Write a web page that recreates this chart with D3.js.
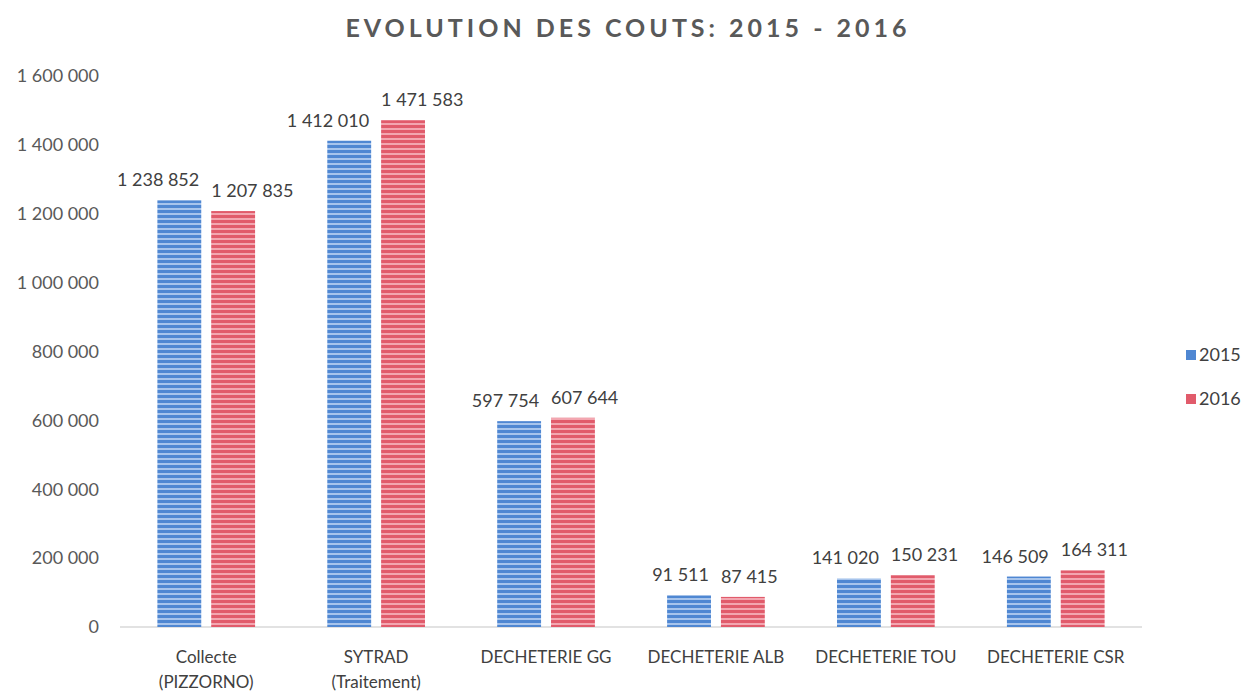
<!DOCTYPE html>
<html lang="fr">
<head>
  <meta charset="UTF-8">
  <title>Evolution des couts 2015 - 2016</title>
  <style>
    body { margin: 0; background: #fff; }
    text { font-family: Lato, "Open Sans", sans-serif; }
  </style>
</head>
<body>
  <div id="chart"></div>
  <script src="https://d3js.org/d3.v7.min.js"></script>
  <script>
    var categories = [['Collecte', '(PIZZORNO)'], ['SYTRAD', '(Traitement)'], ['DECHETERIE GG'],
      ['DECHETERIE ALB'], ['DECHETERIE TOU'], ['DECHETERIE CSR']]
    var years = ['2015', '2016']
    var values2015 = [1238852, 1412010, 597754, 91511, 141020, 146509]
    var values2016 = [1207835, 1471583, 607644, 87415, 150231, 164311]
    var yTicks = [0, 200000, 400000, 600000, 800000, 1000000, 1200000, 1400000, 1600000]

    var width = 1247, height = 692
    var margin = {left: 120, right: 105, top: 76, bottom: 65}

    var fr = d3.formatLocale({decimal: ',', thousands: '\u00a0', grouping: [3], currency: ['', ' €']})
    var fmt = fr.format(',d')

    var svg = d3.select('#chart').append('svg')
      .attr('width', width)
      .attr('height', height)

    // striped fills like the original print
    var defs = svg.append('defs')
    var fills = [{id: 'blue', dark: '#4f87d2', light: '#a7c4ec'}, {id: 'red', dark: '#e15b6b', light: '#f3a6b0'}]
    fills.forEach(function(f) {
      var p = defs.append('pattern')
        .attr('id', 'stripe-' + f.id)
        .attr('patternUnits', 'userSpaceOnUse')
        .attr('width', 8).attr('height', 5)
      p.append('rect').attr('width', 8).attr('height', 5).attr('fill', f.dark)
      p.append('rect').attr('y', 3).attr('width', 8).attr('height', 2).attr('fill', f.light)
    })

    var x0 = d3.scaleBand()
      .domain(d3.range(categories.length))
      .range([margin.left, width - margin.right])
      .paddingInner(0.425)
      .paddingOuter(0.22)
    var x1 = d3.scaleBand()
      .domain(years)
      .range([0, x0.bandwidth()])
      .paddingInner(0.185)
    var y = d3.scaleLinear()
      .domain([0, 1600000])
      .range([height - margin.bottom, margin.top])

    // title
    svg.append('text')
      .attr('x', 628).attr('y', 37)
      .attr('text-anchor', 'middle')
      .attr('font-size', 25)
      .attr('font-weight', 'bold')
      .attr('letter-spacing', 4)
      .attr('fill', '#595959')
      .text('EVOLUTION DES COUTS: 2015 - 2016')

    // y axis (labels only)
    var yAxis = d3.axisLeft(y).tickValues(yTicks).tickFormat(fmt).tickSize(0).tickPadding(0)
    var ga = svg.append('g')
      .attr('transform', 'translate(99,0)')
      .call(yAxis)
    ga.select('.domain').remove()
    ga.selectAll('text').attr('font-size', 18).attr('fill', '#595959').attr('font-family', 'Lato, "Open Sans", sans-serif')

    // baseline
    svg.append('line')
      .attr('x1', margin.left).attr('x2', width - margin.right)
      .attr('y1', y(0)).attr('y2', y(0))
      .attr('stroke', '#d9d9d9').attr('stroke-width', 1.5)

    var rows = categories.map(function(c, i) {
      return [{year: '2015', v: values2015[i], i: i, fill: 'url(#stripe-blue)'},
        {year: '2016', v: values2016[i], i: i, fill: 'url(#stripe-red)'}]
    })

    var groups = svg.append('g').selectAll('g')
      .data(rows)
      .enter().append('g')
      .attr('transform', function(d, i) { return 'translate(' + x0(i) + ',0)' })

    groups.selectAll('rect')
      .data(function(d) { return d })
      .enter().append('rect')
      .attr('x', function(d) { return x1(d.year) })
      .attr('y', function(d) { return y(d.v) })
      .attr('width', x1.bandwidth())
      .attr('height', function(d) { return y(0) - y(d.v) })
      .attr('fill', function(d) { return d.fill })

    // value labels: 2015 ends at bar right, 2016 starts at bar left
    groups.selectAll('text.val')
      .data(function(d) { return d })
      .enter().append('text')
      .attr('class', 'val')
      .attr('x', function(d) { return d.year === '2015' ? x1(d.year) + x1.bandwidth() - 2 : x1(d.year) })
      .attr('y', function(d) { return y(d.v) - 14 })
      .attr('text-anchor', function(d) { return d.year === '2015' ? 'end' : 'start' })
      .attr('font-size', 18)
      .attr('fill', '#404040')
      .text(function(d) { return fmt(d.v) })

    // category labels
    var cat = svg.append('g').selectAll('text')
      .data(categories)
      .enter().append('text')
      .attr('x', function(d, i) { return x0(i) + x0.bandwidth() / 2 })
      .attr('y', 663)
      .attr('text-anchor', 'middle')
      .attr('font-size', 17)
      .attr('fill', '#404040')
    cat.selectAll('tspan')
      .data(function(d) { return d })
      .enter().append('tspan')
      .attr('x', function() { return d3.select(this.parentNode).attr('x') })
      .attr('dy', function(d, j) { return j ? 25 : 0 })
      .text(function(d) { return d })

    // legend
    var leg = svg.append('g').selectAll('g')
      .data(fills)
      .enter().append('g')
      .attr('transform', function(d, i) { return 'translate(1186,' + (355 + i * 44) + ')' })
    leg.append('rect')
      .attr('y', -5).attr('width', 10).attr('height', 10)
      .attr('fill', function(d) { return d.dark })
    leg.append('text')
      .attr('x', 13).attr('dy', '0.35em')
      .attr('font-size', 18)
      .attr('fill', '#404040')
      .text(function(d, i) { return years[i] })
  </script>
</body>
</html>
